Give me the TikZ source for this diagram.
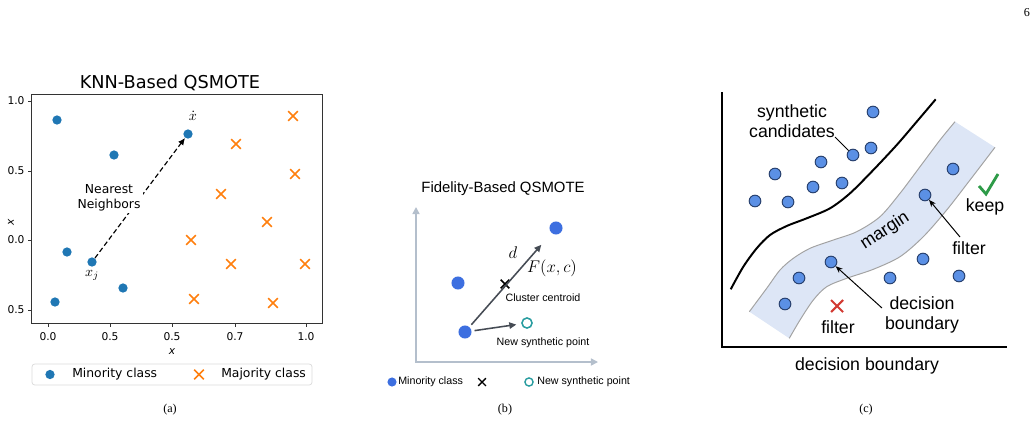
\documentclass[tikz,border=0pt]{standalone}
\usepackage{fontspec}
\setmainfont{Liberation Serif}
\newfontfamily\mplfont{DejaVu Sans}
\newfontfamily\figfont{Liberation Sans}
\usetikzlibrary{arrows.meta,shapes.misc}

\definecolor{mplblue}{HTML}{1F77B4}
\definecolor{mplorange}{HTML}{FF7F0E}
\definecolor{fidblue}{HTML}{3D6FE0}
\definecolor{fidteal}{HTML}{2A9DA0}
\definecolor{fidaxis}{HTML}{B4BFCC}
\definecolor{fidarrow}{HTML}{454B54}
\definecolor{candfill}{HTML}{5B90E5}
\definecolor{candedge}{HTML}{27406E}
\definecolor{bandfill}{HTML}{DDE6F6}
\definecolor{bandedge}{HTML}{A3A3A3}
\definecolor{keepgreen}{HTML}{2E9B48}
\definecolor{dropred}{HTML}{D23A33}

\tikzset{
  knnpoint/.style={circle, fill=mplblue, inner sep=0pt, minimum size=6.6pt},
  knncross/.style={cross out, draw=mplorange, line width=1.1pt, inner sep=0pt, minimum size=5.8pt},
  ticklabel/.style={font=\mplfont\fontsize{7.6}{9}\selectfont, inner sep=0pt},
  knntext/.style={font=\mplfont\fontsize{8.8}{10.7}\selectfont, inner sep=0pt},
  fiddot/.style={circle, fill=fidblue, inner sep=0pt, minimum size=9.3pt},
  fidtext/.style={font=\figfont\fontsize{7.6}{9}\selectfont, inner sep=0pt},
  fidlink/.style={draw=fidarrow, line width=1.1pt, -{Triangle[length=5pt,width=4.5pt]}},
  candpoint/.style={circle, fill=candfill, draw=candedge, line width=0.7pt, inner sep=0pt, minimum size=8.3pt},
  candtext/.style={font=\figfont\fontsize{12.6}{14.2}\selectfont, inner sep=0pt, align=center},
  caption/.style={font=\fontsize{8.6}{10}\selectfont, inner sep=0pt}
}

\begin{document}
\begin{tikzpicture}[x=0.025cm, y=-0.025cm]
    % Fix the page size
    \useasboundingbox (0,0) rectangle (1036,429);
    \node[caption] (pagenum) at (1027,13) {6};

    % (a) KNN-based panel
    \node[font=\mplfont\fontsize{12.6}{15}\selectfont, inner sep=0pt] (knntitle) at (170,83) {KNN-Based QSMOTE};
    \draw[line width=0.6pt, black!80] (31,94) rectangle (322,323);
    \foreach \y/\lab in {101/1.0, 171/0.5, 240/0.0, 310/0.5} {
        \draw[line width=0.6pt, black!80] (31,\y) -- (27.5,\y);
        \node[ticklabel] (ytick\y) at (16,\y) {\lab};
    }
    \foreach \x/\lab in {48/0.0, 110/0.5, 172/0.5, 235/0.7, 306/1.0} {
        \draw[line width=0.6pt, black!80] (\x,323) -- (\x,326.5);
        \node[ticklabel] (xtick\x) at (\x,337) {\lab};
    }
    \node[ticklabel, font=\mplfont\itshape\fontsize{7.6}{9}\selectfont] (knnxlabel) at (172,352) {x};
    \node[ticklabel, font=\mplfont\itshape\fontsize{7.6}{9}\selectfont, rotate=90] (knnylabel) at (11,222) {x};

    % minority and majority points
    \foreach \px/\py [count=\i] in {57/120, 114/155, 67/252, 123/288, 55/302}
        \node[knnpoint] (minor\i) at (\px,\py) {};
    \node[knnpoint] (xdot) at (188,134) {};
    \node[knnpoint] (xj) at (92,262) {};
    \foreach \px/\py [count=\i] in {293/116, 236/144, 295/174, 221/194, 267/222, 191/240, 231/264, 305/264, 194/299, 273/303}
        \node[knncross] (major\i) at (\px,\py) {};

    \node[font=\fontsize{10}{12}\selectfont, inner sep=0pt] (xdotlab) at (193,116) {$\dot{x}$};
    \node[font=\fontsize{10}{12}\selectfont, inner sep=0pt] (xjlab) at (92,275) {$x_j$};
    \draw[line width=0.8pt, dash pattern=on 3.5pt off 2pt, -{Latex[length=5pt,width=4.5pt]}] (xj) -- (xdot);
    \node[knntext, fill=white, align=center, inner sep=1.5pt] (nnlab) at (109,198) {Nearest\\Neighbors};

    % legend
    \draw[rounded corners=2pt, draw=black!15, line width=0.5pt] (32,364) rectangle (312,385);
    \node[knnpoint] (legminor) at (50,374.5) {};
    \node[knntext, anchor=west] (legminortext) at (72,374.5) {Minority class};
    \node[knncross] (legmajor) at (199,374.5) {};
    \node[knntext, anchor=west] (legmajortext) at (221,374.5) {Majority class};
    \node[caption] (capa) at (170,410) {(a)};

    % (b) Fidelity-based panel
    \node[font=\figfont\fontsize{10.6}{13}\selectfont, inner sep=0pt] (fidtitle) at (503,189) {Fidelity-Based QSMOTE};
    \coordinate (fidytop) at (416,207);
    \coordinate (fidorigin) at (416,362);
    \coordinate (fidxend) at (598,362);
    \draw[fidaxis, line width=1.1pt, {Triangle[length=5pt,width=5pt]}-{Triangle[length=5pt,width=5pt]}] (fidytop) -- (fidorigin) -- (fidxend);

    \node[fiddot] (fidtop) at (556,228) {};
    \node[fiddot] (fidleft) at (458,283) {};
    \node[fiddot] (fidbase) at (465,332) {};
    \node[cross out, draw, line width=1.1pt, inner sep=0pt, minimum size=5pt] (centroid) at (505,284) {};
    \node[circle, draw=fidteal, line width=1.1pt, inner sep=0pt, minimum size=7.2pt] (newpt) at (527,323) {};
    \draw[fidlink, shorten <=2pt, shorten >=11pt] (fidbase) -- (fidtop);
    \draw[fidlink, shorten <=2pt, shorten >=3.5pt] (fidbase) -- (newpt);

    \node[font=\fontsize{11.5}{13}\selectfont, inner sep=0pt] (dlab) at (513,253) {$d$};
    \node[font=\fontsize{11.5}{13}\selectfont, inner sep=0pt] (flab) at (552,268) {$F(x,c)$};
    \node[fidtext] (centroidlab) at (543,298) {Cluster centroid};
    \node[fidtext] (newptlab) at (543,343) {New synthetic point};

    % legend
    \node[fiddot, minimum size=6.5pt] (fidlegdot) at (392,382) {};
    \node[fidtext, anchor=west] (fidlegdottext) at (398,382) {Minority class};
    \node[cross out, draw, line width=1pt, inner sep=0pt, minimum size=4.5pt] (fidlegcross) at (482,382) {};
    \node[circle, draw=fidteal, line width=1pt, inner sep=0pt, minimum size=5.8pt] (fidlegcirc) at (529,382) {};
    \node[fidtext, anchor=west] (fidlegcirctext) at (537,382) {New synthetic point};
    \node[caption] (capb) at (505,410) {(b)};

    % (c) margin filter panel
    \coordinate (candytop) at (722,92);
    \coordinate (candorigin) at (722,347);
    \coordinate (candxend) at (1007,347);
    \draw[line width=1.4pt] (candytop) -- (candorigin) -- (candxend);
    \node[candtext] (candxlabel) at (867,366) {decision boundary};

    % margin band
    \fill[bandfill] plot[smooth] coordinates {(749.3,311.7) (766.7,288.3) (780,270) (793.3,258.3) (810,248.3) (833.3,240) (856.7,231.7) (880,216.7) (900,193.3) (920,166.7) (940,140) (955,121.7)}
        -- plot[smooth] coordinates {(995,147.3) (970,180) (946.7,210) (923.3,236.7) (900,256.7) (873.3,269.3) (846.7,278.3) (826.7,286.7) (813.3,300) (800,320) (789.3,338.3)} -- cycle;
    \draw[bandedge, line width=0.7pt] plot[smooth] coordinates {(749.3,311.7) (766.7,288.3) (780,270) (793.3,258.3) (810,248.3) (833.3,240) (856.7,231.7) (880,216.7) (900,193.3) (920,166.7) (940,140) (955,121.7)};
    \draw[bandedge, line width=0.7pt] plot[smooth] coordinates {(995,147.3) (970,180) (946.7,210) (923.3,236.7) (900,256.7) (873.3,269.3) (846.7,278.3) (826.7,286.7) (813.3,300) (800,320) (789.3,338.3)};
    \node[candtext, rotate=33] (marginlab) at (885,231) {margin};

    % separating curve
    \draw[line width=1.4pt] plot[smooth] coordinates {(730.7,289.3) (743.3,266.7) (756.7,248.3) (770,235) (786.7,226) (806.7,218.3) (830,208.3) (850,193.3) (873.3,170) (896.7,145) (916.7,121.7) (935.7,99.3)};

    % candidate points
    \foreach \px/\py [count=\i] in {873/112, 871/148, 821/162, 775/174, 842/183, 813/187, 755/201, 788/202, 953/169, 799/278, 785/304, 923/259, 890/278, 959/276}
        \node[candpoint] (cand\i) at (\px,\py) {};
    \node[candpoint] (candpick) at (853,155) {};
    \node[candpoint] (filtercand) at (925,195) {};
    \node[candpoint] (boundcand) at (831,262) {};

    % labels and pointers
    \node[candtext] (synthlab) at (792,121.5) {synthetic\\candidates};
    \coordinate (synthtail) at (835,137);
    \draw[line width=0.7pt] (synthtail) -- (candpick);

    \node[candtext] (filterlab) at (969,248) {filter};
    \coordinate (filtertail) at (960,237);
    \draw[line width=0.7pt, -{Stealth[length=5pt,width=4pt]}] (filtertail) -- (filtercand);

    \node[candtext] (boundlab) at (922,315) {decision\\boundary};
    \coordinate (boundtail) at (882,308);
    \draw[line width=0.7pt, -{Stealth[length=5pt,width=4pt]}] (boundtail) -- (boundcand);

    \draw[keepgreen, line width=2pt] (979,186) -- (986,194) -- (998,174);
    \node[candtext] (keeplab) at (985,207) {keep};
    \draw[dropred, line width=1.5pt] (831,300) -- (843,312) (831,312) -- (843,300);
    \node[candtext] (droplab) at (838,327) {filter};
    \node[caption] (capc) at (866,410) {(c)};
\end{tikzpicture}
\end{document}
